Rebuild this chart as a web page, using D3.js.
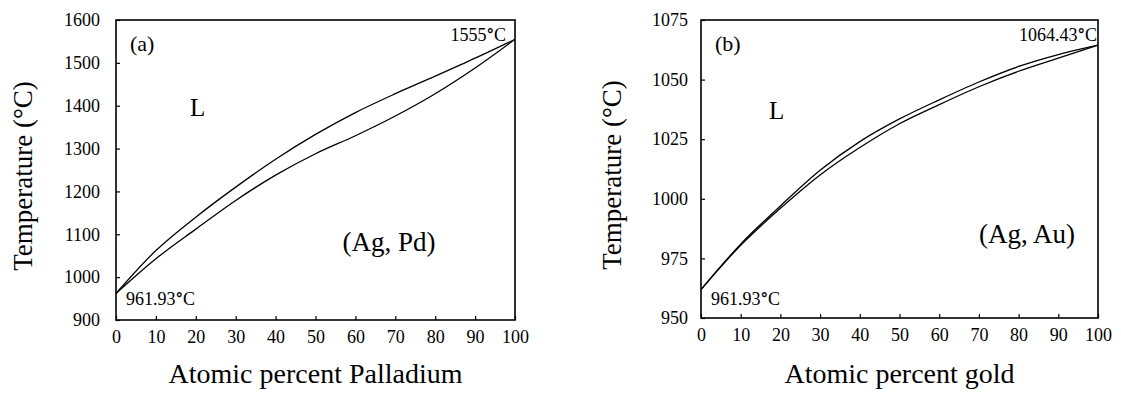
<!DOCTYPE html>
<html>
<head>
<meta charset="utf-8">
<script src="https://cdn.jsdelivr.net/npm/d3@7"></script>
<style>
  body { margin: 0; background: #fff; }
  svg text { font-family: "Liberation Serif", "Times New Roman", serif; fill: #000; }
</style>
</head>
<body>
<div id="chart"></div>
<script>
const width = 1121;
const height = 394;

// composition, atomic percent
const composition = [0, 10, 20, 30, 40, 50, 60, 70, 80, 90, 100];

// Ag-Pd
const pdLiquidus = [961.93, 1062, 1140, 1210, 1275, 1333, 1384, 1428, 1469, 1511, 1555];
const pdSolidus = [961.93, 1043, 1112, 1179, 1238, 1288, 1330, 1376, 1428, 1488, 1555];
const pdTicks = [900, 1000, 1100, 1200, 1300, 1400, 1500, 1600];

// Ag-Au
const auLiquidus = [961.93, 981, 997, 1012, 1024, 1033.5, 1041.5, 1049, 1055.5, 1060.5, 1064.43];
const auSolidus = [961.93, 980.5, 996, 1010, 1021.5, 1031.5, 1039.5, 1047, 1053.5, 1059, 1064.43];
const auTicks = [950, 975, 1000, 1025, 1050, 1075];

const xTicks = [0, 10, 20, 30, 40, 50, 60, 70, 80, 90, 100];

const svg = d3.select("#chart")
  .append("svg")
  .attr("width", width)
  .attr("height", height);

// text with a heavier, larger degree sign like the original
function tempLabel(sel, num) {
  sel.append("tspan").text(num);
  sel.append("tspan")
    .style("font-family", '"DejaVu Sans", sans-serif')
    .style("font-size", "15px")
    .style("font-weight", "bold")
    .attr("dy", "-1")
    .text("°");
  sel.append("tspan").attr("dy", "1").text("C");
}

function drawPanel(p) {
  const x = d3.scaleLinear().domain([0, 100]).range([p.left, p.right]);
  const y = d3.scaleLinear().domain(p.yDomain).range([p.bottom, p.top]);
  const g = svg.append("g");

  // axes, ticks pointing inward
  const yAxis = g.append("g")
    .attr("transform", `translate(${p.left},0)`)
    .call(d3.axisLeft(y).tickValues(p.yTicks).tickFormat(d3.format("d"))
      .tickSizeInner(-4).tickSizeOuter(0).tickPadding(p.yPad));
  const xAxis = g.append("g")
    .attr("transform", `translate(0,${p.bottom})`)
    .call(d3.axisBottom(x).tickValues(xTicks).tickFormat(d3.format("d"))
      .tickSizeInner(-4).tickSizeOuter(0).tickPadding(10));

  [yAxis, xAxis].forEach((a) => {
    a.attr("font-family", '"Liberation Serif", serif').attr("font-size", 18);
    a.select(".domain").remove();
    a.selectAll("line").attr("stroke", "#000").attr("stroke-width", 1.2);
    a.selectAll("text").attr("fill", "#000");
  });

  // frame
  g.append("rect")
    .attr("x", p.left)
    .attr("y", p.top)
    .attr("width", p.right - p.left)
    .attr("height", p.bottom - p.top)
    .attr("fill", "none")
    .attr("stroke", "#000")
    .attr("stroke-width", 1.6);

  const line = d3.line()
    .x((d, i) => x(composition[i]))
    .y((d) => y(d))
    .curve(d3.curveCatmullRom.alpha(0.5));

  [p.liquidus, p.solidus].forEach((s) => {
    g.append("path")
      .attr("d", line(s))
      .attr("fill", "none")
      .attr("stroke", "#000")
      .attr("stroke-width", 1.3);
  });

  // labels
  const cx = (p.left + p.right) / 2;
  g.append("text")
    .attr("x", cx)
    .attr("y", 383)
    .attr("text-anchor", "middle")
    .style("font-size", "28px")
    .text(p.xTitle);

  g.append("text")
    .attr("transform", `translate(${p.yTitleX},${(p.top + p.bottom) / 2 + 6}) rotate(-90)`)
    .attr("text-anchor", "middle")
    .style("font-size", "27px")
    .text("Temperature (°C)");

  g.append("text")
    .attr("x", p.left + 14)
    .attr("y", 51)
    .style("font-size", "22px")
    .text(p.tag);

  g.append("text")
    .attr("x", p.left + p.lX)
    .attr("y", p.lY)
    .style("font-size", "25px")
    .text("L");

  g.append("text")
    .attr("x", p.phaseX)
    .attr("y", p.phaseY)
    .attr("text-anchor", "middle")
    .style("font-size", "27px")
    .text(p.phase);

  g.append("text")
    .attr("x", p.left + 10)
    .attr("y", 305)
    .style("font-size", "18px")
    .call(tempLabel, "961.93");

  g.append("text")
    .attr("x", p.right - p.meltPad)
    .attr("y", 41)
    .attr("text-anchor", "end")
    .style("font-size", "18px")
    .call(tempLabel, p.topMelt);
}

drawPanel({
  left: 116, right: 515, top: 20, bottom: 320,
  yDomain: [900, 1600], yTicks: pdTicks, yPad: 16,
  liquidus: pdLiquidus, solidus: pdSolidus,
  xTitle: "Atomic percent Palladium", yTitleX: 32,
  tag: "(a)", lX: 74, lY: 116,
  phase: "(Ag, Pd)", phaseX: 389, phaseY: 251,
  topMelt: "1555", meltPad: 9
});

drawPanel({
  left: 701, right: 1098, top: 20, bottom: 318,
  yDomain: [950, 1075], yTicks: auTicks, yPad: 13,
  liquidus: auLiquidus, solidus: auSolidus,
  xTitle: "Atomic percent gold", yTitleX: 621,
  tag: "(b)", lX: 68, lY: 119,
  phase: "(Ag, Au)", phaseX: 1027, phaseY: 243,
  topMelt: "1064.43", meltPad: 1
});
</script>
</body>
</html>
